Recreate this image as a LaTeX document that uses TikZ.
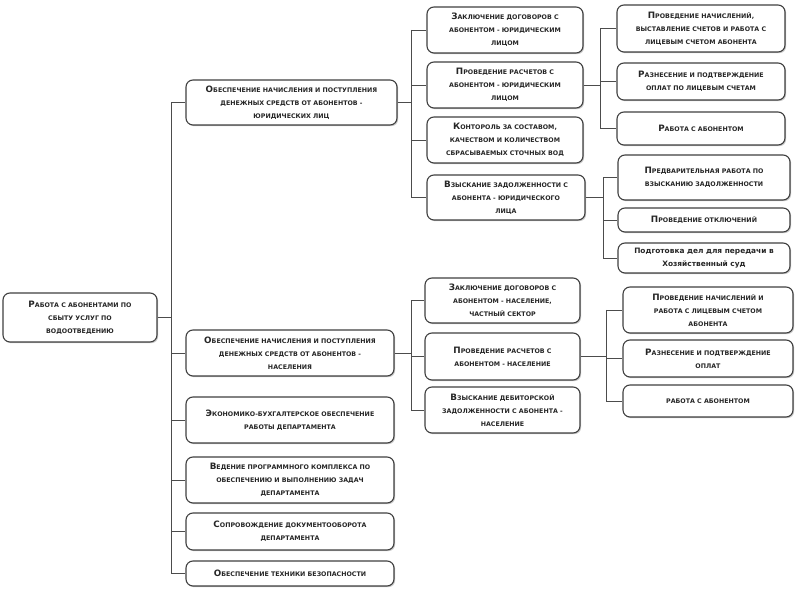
\documentclass[tikz,border=0pt]{standalone}
\usepackage{fontspec}
\setmainfont{DejaVu Sans}
\usetikzlibrary{shadows}
\newcommand\Cap[1]{{\fontsize{8.8}{13}\selectfont #1}}
\tikzset{
  box/.style={draw=black!75, line width=1.1pt, rounded corners=7pt, fill=white, align=center,
    inner sep=1pt, text=black!85, font=\bfseries\fontsize{6.3}{13}\selectfont,
    drop shadow={shadow xshift=1.2pt, shadow yshift=-1.2pt, opacity=0.35, fill=black!60}},
  link/.style={draw=black!70, line width=0.9pt},
}
\newcommand\bx[6]{\node[box, minimum width=#4pt, minimum height=#5pt] (#1) at (#2,#3) {#6};}
\begin{document}
\begin{tikzpicture}[x=1pt,y=-1pt]
\useasboundingbox[fill=white] (0,0) rectangle (800,593);
% root
\bx{root}{80}{317.5}{154}{49}{\Cap{Р}АБОТА С АБОНЕНТАМИ ПО\\СБЫТУ УСЛУГ ПО\\ВОДООТВЕДЕНИЮ}
% level 1
\bx{A}{291.5}{102.5}{211}{45}{\Cap{О}БЕСПЕЧЕНИЕ НАЧИСЛЕНИЯ И ПОСТУПЛЕНИЯ\\ДЕНЕЖНЫХ СРЕДСТВ ОТ АБОНЕНТОВ -\\ЮРИДИЧЕСКИХ ЛИЦ}
\bx{B}{290}{353}{208}{46}{\Cap{О}БЕСПЕЧЕНИЕ НАЧИСЛЕНИЯ И ПОСТУПЛЕНИЯ\\ДЕНЕЖНЫХ СРЕДСТВ ОТ АБОНЕНТОВ -\\НАСЕЛЕНИЯ}
\bx{C}{290}{420}{208}{46}{\Cap{Э}КОНОМИКО-БУХГАЛТЕРСКОЕ ОБЕСПЕЧЕНИЕ\\РАБОТЫ ДЕПАРТАМЕНТА}
\bx{D}{290}{480}{208}{46}{\Cap{В}ЕДЕНИЕ ПРОГРАММНОГО КОМПЛЕКСА ПО\\ОБЕСПЕЧЕНИЮ И ВЫПОЛНЕНИЮ ЗАДАЧ\\ДЕПАРТАМЕНТА}
\bx{E}{290}{531.5}{208}{37}{\Cap{С}ОПРОВОЖДЕНИЕ ДОКУМЕНТООБОРОТА\\ДЕПАРТАМЕНТА}
\bx{F}{290}{573.5}{208}{25}{\Cap{О}БЕСПЕЧЕНИЕ ТЕХНИКИ БЕЗОПАСНОСТИ}
% level 2 (A)
\bx{A1}{505}{30}{156}{46}{\Cap{З}АКЛЮЧЕНИЕ ДОГОВОРОВ С\\АБОНЕНТОМ - ЮРИДИЧЕСКИМ\\ЛИЦОМ}
\bx{A2}{505}{85}{156}{46}{\Cap{П}РОВЕДЕНИЕ РАСЧЕТОВ С\\АБОНЕНТОМ - ЮРИДИЧЕСКИМ\\ЛИЦОМ}
\bx{A3}{505}{140}{156}{46}{\Cap{К}ОНТОРОЛЬ ЗА СОСТАВОМ,\\КАЧЕСТВОМ И КОЛИЧЕСТВОМ\\СБРАСЫВАЕМЫХ СТОЧНЫХ ВОД}
\bx{A4}{506}{197.5}{158}{45}{\Cap{В}ЗЫСКАНИЕ ЗАДОЛЖЕННОСТИ С\\АБОНЕНТА - ЮРИДИЧЕСКОГО\\ЛИЦА}
% level 3 (A2)
\bx{A2a}{701}{28.5}{168}{47}{\Cap{П}РОВЕДЕНИЕ НАЧИСЛЕНИЙ,\\ВЫСТАВЛЕНИЕ СЧЕТОВ И РАБОТА С\\ЛИЦЕВЫМ СЧЕТОМ АБОНЕНТА}
\bx{A2b}{701}{81.5}{168}{37}{\Cap{Р}АЗНЕСЕНИЕ И ПОДТВЕРЖДЕНИЕ\\ОПЛАТ ПО ЛИЦЕВЫМ СЧЕТАМ}
\bx{A2c}{701}{128.5}{168}{33}{\Cap{Р}АБОТА С АБОНЕНТОМ}
% level 3 (A4)
\bx{A4a}{704}{177.5}{172}{45}{\Cap{П}РЕДВАРИТЕЛЬНАЯ РАБОТА ПО\\ВЗЫСКАНИЮ ЗАДОЛЖЕННОСТИ}
\bx{A4b}{704}{220}{172}{24}{\Cap{П}РОВЕДЕНИЕ ОТКЛЮЧЕНИЙ}
\bx{A4c}{704}{258}{172}{30}{\fontsize{7.4}{12.5}\selectfont Подготовка дел для передачи в\\\fontsize{7.4}{12.5}\selectfont Хозяйственный суд}
% level 2 (B)
\bx{B1}{502.5}{300.5}{155}{45}{\Cap{З}АКЛЮЧЕНИЕ ДОГОВОРОВ С\\АБОНЕНТОМ - НАСЕЛЕНИЕ,\\ЧАСТНЫЙ СЕКТОР}
\bx{B2}{502.5}{356.5}{155}{47}{\Cap{П}РОВЕДЕНИЕ РАСЧЕТОВ С\\АБОНЕНТОМ - НАСЕЛЕНИЕ}
\bx{B3}{502.5}{410}{155}{46}{\Cap{В}ЗЫСКАНИЕ ДЕБИТОРСКОЙ\\ЗАДОЛЖЕННОСТИ С АБОНЕНТА -\\НАСЕЛЕНИЕ}
% level 3 (B2)
\bx{B2a}{708}{310}{170}{46}{\Cap{П}РОВЕДЕНИЕ НАЧИСЛЕНИЙ И\\РАБОТА С ЛИЦЕВЫМ СЧЕТОМ\\АБОНЕНТА}
\bx{B2b}{708}{358.5}{170}{37}{\Cap{Р}АЗНЕСЕНИЕ И ПОДТВЕРЖДЕНИЕ\\ОПЛАТ}
\bx{B2c}{708}{401}{170}{32}{РАБОТА С АБОНЕНТОМ}
% bus coordinates
\coordinate (b0) at (171,0);
\coordinate (bA) at (411,0);
\coordinate (bA2) at (600,0);
\coordinate (bA4) at (603,0);
\coordinate (bB) at (411,0);
\coordinate (bB2) at (606,0);
% root bus
\draw[link] (root.east) -- (root.east -| b0);
\draw[link] (b0 |- A.west) -- (b0 |- F.west);
\foreach \n in {A,B,C,D,E,F} \draw[link] (b0 |- \n.west) -- (\n.west);
% A bus
\draw[link] (A.east) -- (A.east -| bA);
\draw[link] (bA |- A1.west) -- (bA |- A4.west);
\foreach \n in {A1,A2,A3,A4} \draw[link] (bA |- \n.west) -- (\n.west);
% A2 bus
\draw[link] (A2.east) -- (A2.east -| bA2);
\draw[link] (bA2 |- A2a.west) -- (bA2 |- A2c.west);
\foreach \n in {A2a,A2b,A2c} \draw[link] (bA2 |- \n.west) -- (\n.west);
% A4 bus
\draw[link] (A4.east) -- (A4.east -| bA4);
\draw[link] (bA4 |- A4a.west) -- (bA4 |- A4c.west);
\foreach \n in {A4a,A4b,A4c} \draw[link] (bA4 |- \n.west) -- (\n.west);
% B bus
\draw[link] (B.east) -- (B.east -| bB);
\draw[link] (bB |- B1.west) -- (bB |- B3.west);
\foreach \n in {B1,B2,B3} \draw[link] (bB |- \n.west) -- (\n.west);
% B2 bus
\draw[link] (B2.east) -- (B2.east -| bB2);
\draw[link] (bB2 |- B2a.west) -- (bB2 |- B2c.west);
\foreach \n in {B2a,B2b,B2c} \draw[link] (bB2 |- \n.west) -- (\n.west);
\end{tikzpicture}
\end{document}
